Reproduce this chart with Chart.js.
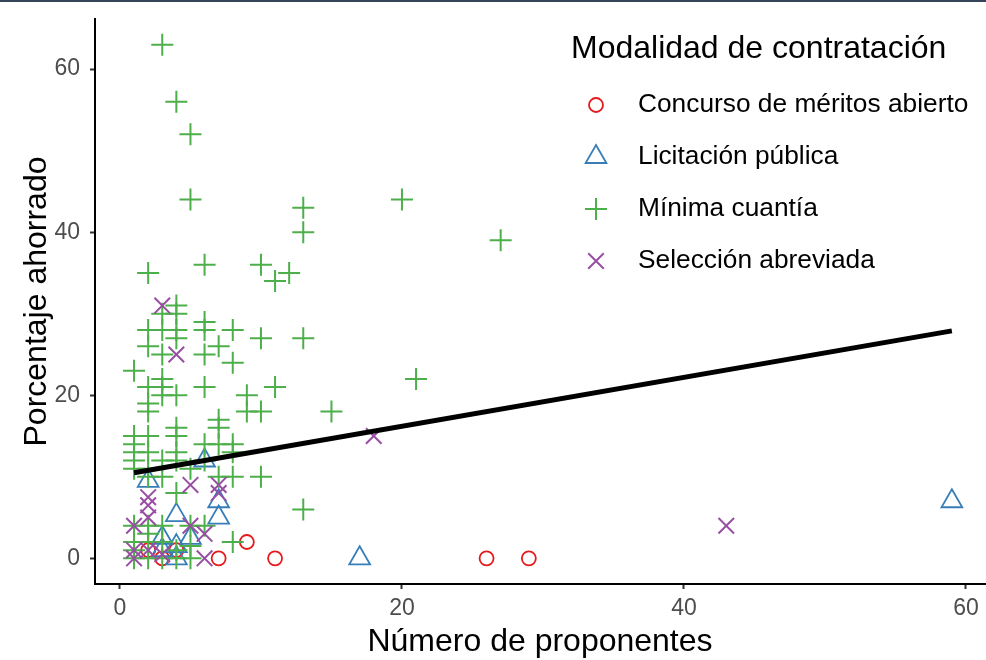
<!DOCTYPE html>
<html>
<head>
<meta charset="utf-8">
<script src="https://cdn.jsdelivr.net/npm/chart.js@4/dist/chart.umd.min.js"></script>
<style>
  html, body { margin: 0; padding: 0; background: #fff; }
  #wrap { position: relative; width: 986px; height: 660px; }
  #topline { position: absolute; left: 0; top: 0; width: 986px; height: 2px; background: #34455a; }
</style>
</head>
<body>
<div id="wrap">
  <canvas id="chart" width="986" height="660"></canvas>
  <div id="topline"></div>
</div>
<script>
// ---- data ----
const xTicks = [0, 20, 40, 60];
const yTicks = [0, 20, 40, 60];

const xTitle = "Número de proponentes";
const yTitle = "Porcentaje ahorrado";
const legendTitle = "Modalidad de contratación";

const concursoX = [2, 3, 4, 7, 9, 11, 26, 29];
const concursoY = [1, 0, 1, 0, 2, 0, 0, 0];

const licitacionX = [59, 17, 6, 2, 4, 7, 7, 3, 4, 5, 4, 3];
const licitacionY = [7, 0, 12, 9.5, 5.3, 7, 5, 2.5, 1.5, 2.5, 0, 1];

const minimaX = [
  3, 4, 5, 5, 20, 13, 13, 27,
  2, 6, 10, 12, 11,
  4, 4, 3, 6, 2, 3, 4, 6, 8,
  4, 10, 13, 2, 7, 3, 6, 8,
  1, 3, 21, 2, 3, 6, 11, 3, 4, 9,
  2, 2, 9, 10, 15, 7, 4, 7,
  1, 2, 4, 1, 6, 7, 8,
  1, 2, 4, 8, 1, 3, 4, 6, 1, 2, 5,
  2, 3, 7, 8, 10, 4, 13,
  1, 2, 3, 5, 6, 2, 1, 2, 3, 8, 1, 4, 5,
  1, 2, 3, 4, 5
];
const minimaY = [
  63, 56, 52, 44, 44, 43, 40, 39,
  35, 36, 36, 35, 34,
  31, 30, 30, 29, 28, 28, 28, 28, 28,
  27, 27, 27, 26, 26, 25, 25, 24,
  23, 22, 22, 21, 21, 21, 21, 20, 20, 20,
  19, 18, 18, 18, 18, 17, 16, 16,
  15, 15, 15, 14, 14, 14, 14,
  13, 13, 13, 13, 12, 12, 12, 12, 11, 11, 11,
  10, 10, 10, 10, 10, 8, 6,
  4, 4, 4, 4, 4, 3, 2, 2, 2, 2, 1, 1, 1.5,
  0, 0, 0, 0, 0
];

const seleccionX = [3, 4, 18, 43, 5, 7, 7, 2, 2, 2, 1, 5, 6, 1, 1, 2, 6, 3];
const seleccionY = [31, 25, 15, 4, 9, 9, 8, 7.5, 6.5, 5, 4, 4, 3, 1, 0, 1, 0, 0.5];

// fitted trend line (end points)
const trendX = [1, 59];
const trendY = [10.5, 27.9];

const seriesNames = [
  "Concurso de méritos abierto",
  "Licitación pública",
  "Mínima cuantía",
  "Selección abreviada"
];
const seriesColors = ["#E41A1C", "#377EB8", "#4DAF4A", "#984EA3"];

// ---- helpers ----
const FONT = '"Liberation Sans", Arial, Helvetica, sans-serif';
Chart.defaults.font.family = FONT;

function toPoints(xs, ys) {
  return xs.map((x, i) => ({ x, y: ys[i] }));
}

function pointSeries(i, xs, ys, style, radius, width, order) {
  return {
    label: seriesNames[i],
    data: toPoints(xs, ys),
    pointStyle: style,
    pointRadius: radius,
    pointHoverRadius: radius,
    pointBorderWidth: width,
    borderColor: seriesColors[i],
    backgroundColor: "rgba(0,0,0,0)",
    pointBackgroundColor: "rgba(0,0,0,0)",
    showLine: false,
    order
  };
}

const datasets = [
  pointSeries(0, concursoX, concursoY, "circle", 7, 1.8, 4),
  pointSeries(1, licitacionX, licitacionY, "triangle", 12, 1.8, 3),
  pointSeries(2, minimaX, minimaY, "cross", 11, 2, 2),
  pointSeries(3, seleccionX, seleccionY, "crossRot", 11, 2, 1),
  {
    type: "line",
    label: "trend",
    data: toPoints(trendX, trendY),
    borderColor: "#000",
    borderWidth: 5,
    pointRadius: 0,
    fill: false,
    order: 0
  }
];

// legend floating inside the plot, like the ggplot one
const floatLegend = {
  id: "floatLegend",
  afterDraw(chart) {
    const ctx = chart.ctx;
    ctx.save();
    ctx.fillStyle = "#000";
    ctx.textAlign = "left";
    ctx.textBaseline = "middle";
    ctx.font = "32px " + FONT;
    ctx.fillText(legendTitle, 571, 49);
    ctx.font = "26.3px " + FONT;
    const rowY = [105, 157, 209, 261];
    chart.data.datasets.slice(0, 4).forEach((ds, i) => {
      ctx.strokeStyle = ds.borderColor;
      ctx.fillStyle = "rgba(0,0,0,0)";
      ctx.lineWidth = ds.pointBorderWidth;
      Chart.helpers.drawPoint(ctx, {
        pointStyle: ds.pointStyle,
        radius: ds.pointRadius,
        borderWidth: ds.pointBorderWidth,
        rotation: 0
      }, 596, rowY[i]);
      ctx.fillStyle = "#000";
      ctx.fillText(ds.label, 638, rowY[i]);
    });
    ctx.restore();
  }
};

new Chart(document.getElementById("chart"), {
  type: "scatter",
  data: { datasets },
  plugins: [floatLegend],
  options: {
    responsive: false,
    animation: false,
    devicePixelRatio: 1,
    layout: { autoPadding: false, padding: { top: 19, right: 1, left: 0, bottom: 0 } },
    plugins: {
      legend: { display: false },
      tooltip: { enabled: false }
    },
    scales: {
      x: {
        type: "linear",
        min: -1.77,
        max: 61.35,
        afterBuildTicks: (scale) => {
          scale.ticks = xTicks.map((v) => ({ value: v }));
        },
        afterFit: (scale) => {
          scale.height = 76;
          scale.paddingLeft = 0;
          scale.paddingRight = 0;
        },
        border: { display: true, color: "#000", width: 2 },
        grid: { drawOnChartArea: false, drawTicks: true, tickLength: 5, tickWidth: 2, color: "#333" },
        ticks: { color: "#4D4D4D", font: { size: 23 }, padding: 6 },
        title: { display: true, text: xTitle, color: "#000", font: { size: 32, lineHeight: 1.1 }, padding: { top: 0, bottom: 0 } }
      },
      y: {
        type: "linear",
        min: -3.15,
        max: 66.15,
        afterBuildTicks: (scale) => {
          scale.ticks = yTicks.map((v) => ({ value: v }));
        },
        afterFit: (scale) => {
          scale.width = 95;
          scale.paddingTop = 0;
          scale.paddingBottom = 0;
        },
        border: { display: true, color: "#000", width: 2 },
        grid: { drawOnChartArea: false, drawTicks: true, tickLength: 5, tickWidth: 2, color: "#333" },
        ticks: { color: "#4D4D4D", font: { size: 23 }, padding: 10 },
        title: { display: true, text: yTitle, color: "#000", font: { size: 32 }, padding: { top: 18, bottom: 0 } }
      }
    }
  }
});
</script>
</body>
</html>
